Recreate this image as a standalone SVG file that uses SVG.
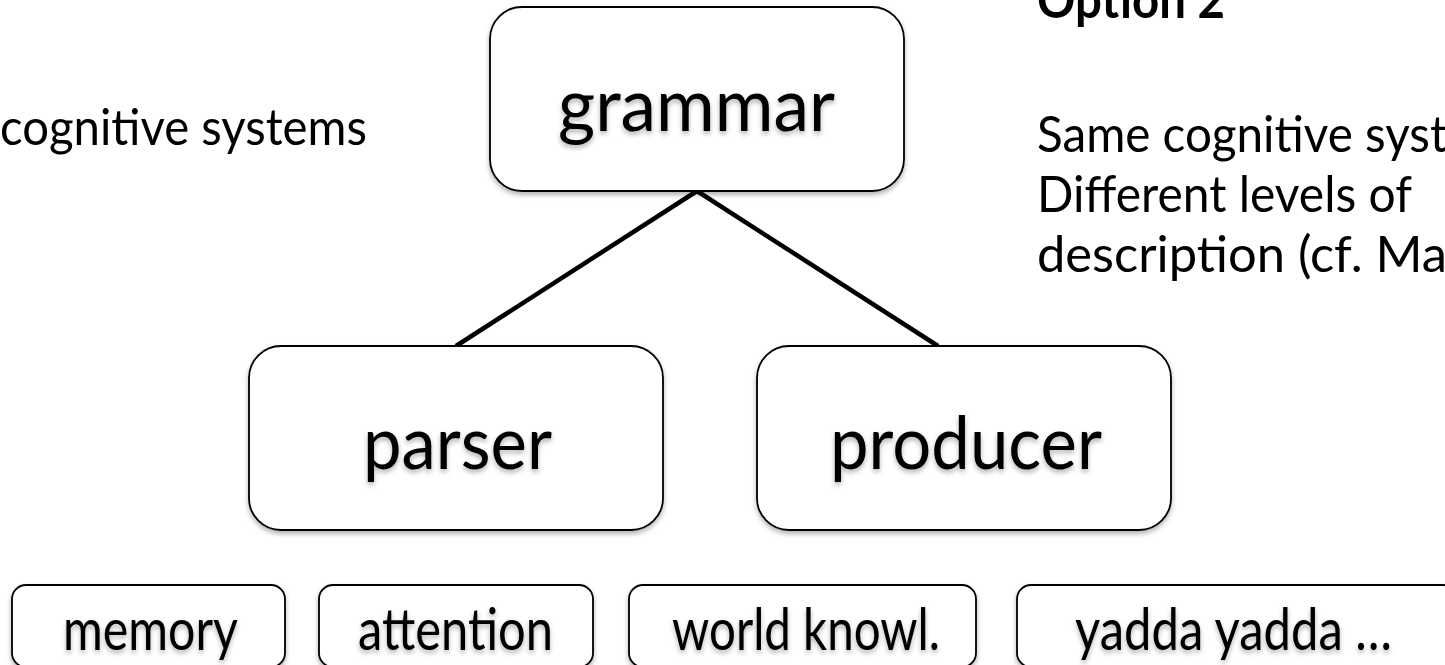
<svg xmlns="http://www.w3.org/2000/svg" width="1445" height="665" viewBox="0 0 1445 665">
<defs>
<filter id="sh" x="-10%" y="-10%" width="120%" height="130%">
<feDropShadow dx="0" dy="3" stdDeviation="2.5" flood-color="#000" flood-opacity="0.3"/>
</filter>
<style>
.box{fill:#fff;stroke:#000;stroke-width:1.8;filter:url(#sh)}
.lbl{font-family:Lato,"Carlito","Liberation Sans",sans-serif;fill:#000;text-anchor:start;filter:url(#sh)}
.big{font-size:74px}
.small{font-size:59px}
.side{font-family:Lato,"Carlito","Liberation Sans",sans-serif;fill:#000;font-size:51px}
.edge{stroke:#000;stroke-width:4.5;fill:none;stroke-linecap:butt}
</style>
</defs>
<rect width="1445" height="665" fill="#fff"/>
<g id="connectors">
<line class="edge" x1="697" y1="191" x2="456" y2="346"/>
<line class="edge" x1="697" y1="191" x2="938" y2="346"/>
</g>
<g id="grammar">
<rect class="box" x="490" y="7" width="414" height="184" rx="32"/>
<text class="lbl big" x="558" y="131" textLength="277" lengthAdjust="spacingAndGlyphs">grammar</text>
</g>
<g id="parser">
<rect class="box" x="249" y="346" width="414" height="184" rx="32"/>
<text class="lbl big" x="363" y="469" textLength="189" lengthAdjust="spacingAndGlyphs">parser</text>
</g>
<g id="producer">
<rect class="box" x="757" y="346" width="414" height="184" rx="32"/>
<text class="lbl big" x="830" y="469" textLength="272" lengthAdjust="spacingAndGlyphs">producer</text>
</g>
<g id="memory">
<rect class="box" x="12" y="585" width="273" height="82" rx="14"/>
<text class="lbl small" x="63" y="650" textLength="175" lengthAdjust="spacingAndGlyphs">memory</text>
</g>
<g id="attention">
<rect class="box" x="319" y="585" width="274" height="82" rx="14"/>
<text class="lbl small" x="358" y="650" textLength="195" lengthAdjust="spacingAndGlyphs">attention</text>
</g>
<g id="world">
<rect class="box" x="629" y="585" width="347" height="82" rx="14"/>
<text class="lbl small" x="672" y="650" textLength="268" lengthAdjust="spacingAndGlyphs">world knowl.</text>
</g>
<g id="yadda">
<rect class="box" x="1017" y="585" width="440" height="82" rx="14"/>
<text class="lbl small" x="1075" y="650" textLength="317" lengthAdjust="spacingAndGlyphs">yadda yadda …</text>
</g>
<g id="notes">
<text class="side" x="0" y="145" textLength="367" lengthAdjust="spacingAndGlyphs">cognitive systems</text>
<text class="side" x="1037" y="18" font-weight="bold" textLength="188" lengthAdjust="spacingAndGlyphs">Option 2</text>
<text class="side" x="1037" y="152" textLength="410" lengthAdjust="spacingAndGlyphs">Same cognitive syst</text>
<text class="side" x="1037" y="212" textLength="375" lengthAdjust="spacingAndGlyphs">Different levels of</text>
<text class="side" x="1037" y="272" textLength="410" lengthAdjust="spacingAndGlyphs">description (cf. Ma</text>
</g>
</svg>
